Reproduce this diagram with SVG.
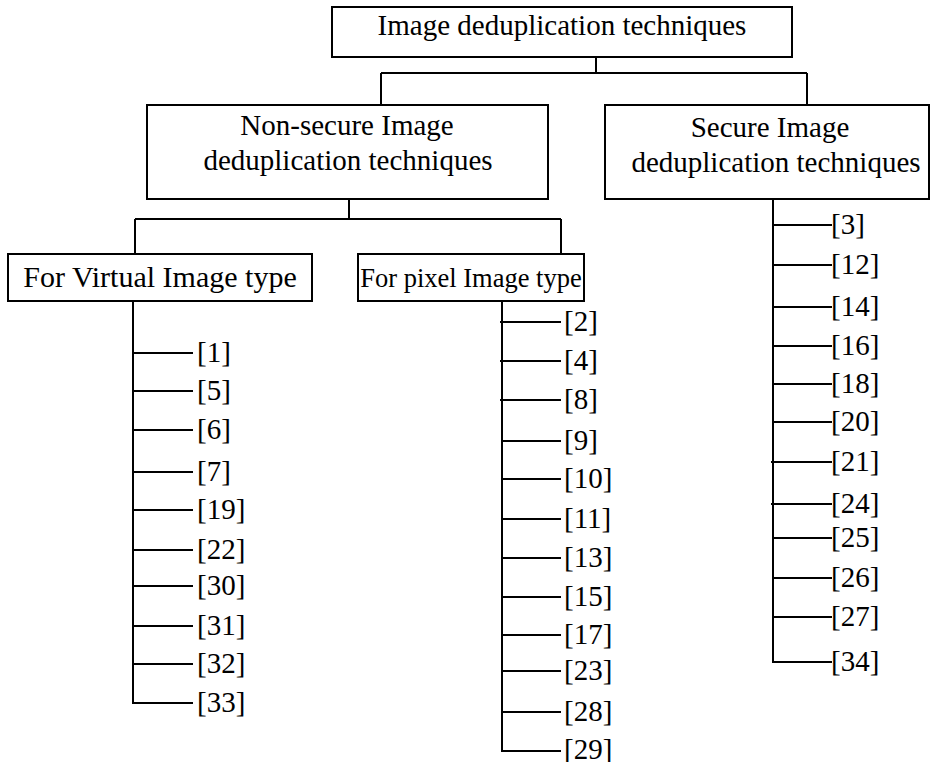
<svg xmlns="http://www.w3.org/2000/svg" width="932" height="762" viewBox="0 0 932 762">
<style>
.box{fill:#fff;stroke:#000;stroke-width:2}
.t{font-family:"Liberation Serif","Times New Roman",serif;font-size:29px;fill:#000}
.c{text-anchor:middle}
.ln{stroke:#000;stroke-width:2;fill:none}
</style>
<rect width="932" height="762" fill="#fff"/>
<g id="connectors" class="ln">
<path d="M596 57V73M381 73H807M381 73V105M807 73V105"/>
<path d="M349 199V219M135 219H561M135 219V254M561 219V254"/>
<path d="M133 301V704M133 353H193M133 391H193M133 430H193M133 472H193M133 510H193M133 550H193M133 586H193M133 626H193M133 664H193M133 703H193"/>
<path d="M502 301V751H561M500 322H561M500 361H561M500 400H561M502 441H561M502 479H561M502 519H561M502 558H561M502 597H561M502 635H561M502 671H561M502 712H561"/>
<path d="M773 199V662H832M773 225H832M773 265H832M773 307H832M773 346H832M773 384H832M773 422H832M771 462H832M771 504H832M773 538H832M773 578H832M773 617H832"/>
</g>
<g id="root">
<rect class="box" x="332" y="7" width="460" height="50"/>
<text class="t c" x="562" y="35">Image deduplication techniques</text>
</g>
<g id="nonsecure">
<rect class="box" x="147" y="105" width="401" height="94"/>
<text class="t c" x="347" y="135">Non-secure Image</text>
<text class="t c" x="348" y="170">deduplication techniques</text>
</g>
<g id="secure">
<rect class="box" x="605" y="105" width="324" height="94"/>
<text class="t c" x="770" y="137">Secure Image</text>
<text class="t c" x="776" y="172">deduplication techniques</text>
</g>
<g id="virtual">
<rect class="box" x="8" y="254" width="304" height="47"/>
<text class="t c" x="160" y="287" style="font-size:30px">For Virtual Image type</text>
</g>
<g id="pixel">
<rect class="box" x="358" y="254" width="226" height="47"/>
<text class="t c" x="471" y="287" style="font-size:26.5px">For pixel Image type</text>
</g>
<g id="virtual-refs" class="t">
<text x="197" y="362">[1]</text>
<text x="197" y="400">[5]</text>
<text x="197" y="439">[6]</text>
<text x="197" y="481">[7]</text>
<text x="197" y="519">[19]</text>
<text x="197" y="559">[22]</text>
<text x="197" y="595">[30]</text>
<text x="197" y="635">[31]</text>
<text x="197" y="673">[32]</text>
<text x="197" y="712">[33]</text>
</g>
<g id="pixel-refs" class="t">
<text x="564" y="331">[2]</text>
<text x="564" y="370">[4]</text>
<text x="564" y="409">[8]</text>
<text x="564" y="450">[9]</text>
<text x="564" y="488">[10]</text>
<text x="564" y="528">[11]</text>
<text x="564" y="567">[13]</text>
<text x="564" y="606">[15]</text>
<text x="564" y="644">[17]</text>
<text x="564" y="680">[23]</text>
<text x="564" y="721">[28]</text>
<text x="564" y="759">[29]</text>
</g>
<g id="secure-refs" class="t">
<text x="831" y="234">[3]</text>
<text x="831" y="274">[12]</text>
<text x="831" y="316">[14]</text>
<text x="831" y="355">[16]</text>
<text x="831" y="393">[18]</text>
<text x="831" y="431">[20]</text>
<text x="831" y="471">[21]</text>
<text x="831" y="513">[24]</text>
<text x="831" y="547">[25]</text>
<text x="831" y="587">[26]</text>
<text x="831" y="626">[27]</text>
<text x="831" y="671">[34]</text>
</g>
</svg>
